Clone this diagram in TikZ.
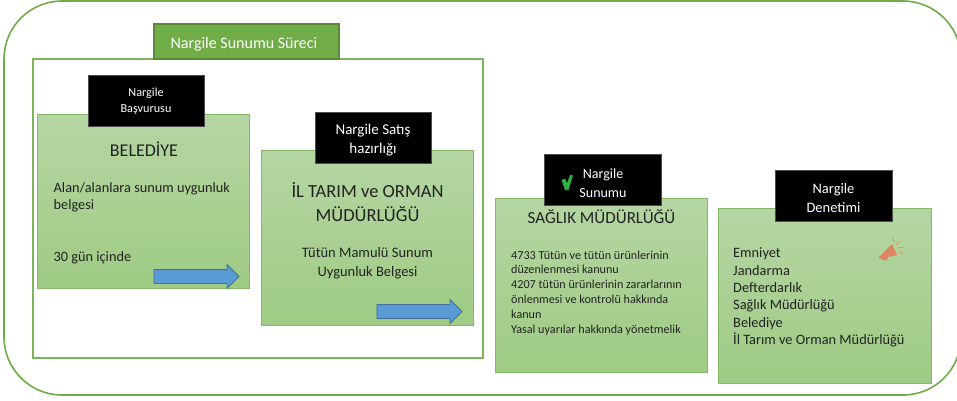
\documentclass[tikz,border=0pt]{standalone}
\usepackage{fontspec}
\setmainfont{Carlito}
\usetikzlibrary{shapes.arrows}
\definecolor{gborder}{HTML}{70AD47}
\definecolor{gtop}{HTML}{B5D6A3}
\definecolor{gbot}{HTML}{9FCB84}
\definecolor{blued}{HTML}{5B9BD5}
\definecolor{blueb}{HTML}{41719C}
\definecolor{txt}{HTML}{222222}
\definecolor{horn}{HTML}{DD8560}
\definecolor{tick}{HTML}{2DAE45}
\tikzset{
  x=1pt,y=-1pt,
  panel/.style={draw=gborder!85!white,line width=1pt,top color=gtop,bottom color=gbot,inner sep=0pt},
  tag/.style={fill=black,draw=black!70,line width=.4pt,minimum height=51pt,inner sep=0pt},
  tagtext/.style={text=white,align=center,inner sep=0pt},
  bluearrow/.style={fill=blued,draw=blueb,line width=.8pt,single arrow,minimum height=85pt,minimum width=23pt,single arrow head extend=5pt,single arrow tip angle=90,inner sep=0pt,text height=13pt,text depth=0pt,text width=0pt},
  heading/.style={text=txt,align=center,inner sep=0pt},
  body/.style={text=txt,align=left,inner sep=0pt,anchor=north west},
}
\begin{document}
\begin{tikzpicture}
\useasboundingbox (0,0) rectangle (957,400);
\fill[white] (0,0) rectangle (957,400);
% outer
\draw[gborder,line width=1.6pt,rounded corners=58pt] (4,1) rectangle (961,395);
% frame
\draw[gborder!90!white,line width=1.6pt] (33,59) rectangle (483,358);
% title
\node[fill=gborder,draw=gborder!80!black,line width=1.2pt,minimum width=185pt,minimum height=35pt,inner sep=0pt] (title) at (246.5,41.5) {};
\node[tagtext,font=\fontsize{16}{19}\selectfont] (titlet) at (244,44) {Nargile Sunumu Süreci};
% panels
\node[panel,minimum width=212pt,minimum height=174pt] (p1) at (143,201) {};
\node[panel,minimum width=212pt,minimum height=175pt] (p2) at (367,237.5) {};
\node[panel,minimum width=212pt,minimum height=174pt] (p3) at (601,285) {};
\node[panel,minimum width=213pt,minimum height=175pt] (p4) at (824.5,295.5) {};
% tags
\node[tag,minimum width=116pt] (t1) at (146,100.5) {};
\node[tagtext,font=\fontsize{12.2}{16}\selectfont] (t1t) at (146,101.5) {Nargile\\Başvurusu};
\node[tag,minimum width=116pt] (t2) at (373,137.5) {};
\node[tagtext,font=\fontsize{15}{18.5}\selectfont] (t2t) at (373,140) {Nargile Satış\\hazırlığı};
\node[tag,minimum width=117pt] (t3) at (602.5,179.5) {};
\node[tagtext,font=\fontsize{14}{18.8}\selectfont] (t3t) at (603,183) {Nargile\\Sunumu};
\node[tag,minimum width=117pt] (t4) at (833.5,195.5) {};
\node[tagtext,font=\fontsize{14.5}{18.5}\selectfont] (t4t) at (833.5,198) {Nargile\\Denetimi};
% panel 1
\node[heading,font=\fontsize{18}{20}\selectfont] (h1) at (144,149.5) {BELEDİYE};
\node[body,font=\fontsize{14.3}{17.3}\selectfont] (b1) at (53.5,182) {Alan/alanlara sunum uygunluk\\belgesi};
\node[body,font=\fontsize{14.3}{17.3}\selectfont] (b1b) at (53.5,251) {30 gün içinde};
\node[bluearrow] (a1) at (193,276.5) {};
% panel 2
\node[heading,font=\fontsize{18.5}{23.5}\selectfont] (h2) at (367.5,202) {İL TARIM ve ORMAN\\MÜDÜRLÜĞÜ};
\node[heading,font=\fontsize{14.5}{18.8}\selectfont] (b2) at (367.5,263) {Tütün Mamulü Sunum\\Uygunluk Belgesi};
\node[bluearrow] (a2) at (416,311.5) {};
% panel 3
\node[heading,font=\fontsize{17}{20}\selectfont] (h3) at (601.5,217) {SAĞLIK MÜDÜRLÜĞÜ};
\node[body,font=\fontsize{12.15}{14.85}\selectfont] (b3) at (511,250.5) {4733 Tütün ve tütün ürünlerinin\\düzenlenmesi kanunu\\4207 tütün ürünlerinin zararlarının\\önlenmesi ve kontrolü hakkında\\kanun\\Yasal uyarılar hakkında yönetmelik};
% panel 4
\node[body,font=\fontsize{14.35}{17.45}\selectfont] (b4) at (733,247.5) {Emniyet\\Jandarma\\Defterdarlık\\Sağlık Müdürlüğü\\Belediye\\İl Tarım ve Orman Müdürlüğü};
% check mark
\fill[tick] (561.5,180) -- (565,178.5) -- (567,183) -- (570,175) -- (573,175.5) -- (568.5,190) -- (565,190) -- cycle;
% megaphone
\fill[horn] (878,258) -- (892,244) -- (897,255) -- (888,257) -- (887,260) -- (883,260) -- (882,259) -- cycle;
\draw[horn!70!gtop,line width=1pt,line cap=round] (893,238) -- (894,242);
\draw[horn!70!gtop,line width=1pt,line cap=round] (896,245) -- (900,241);
\draw[horn!70!gtop,line width=1pt,line cap=round] (898,248) -- (904,247);
\draw[horn!70!gtop,line width=1pt,line cap=round] (899,252) -- (903,253);
\end{tikzpicture}
\end{document}
